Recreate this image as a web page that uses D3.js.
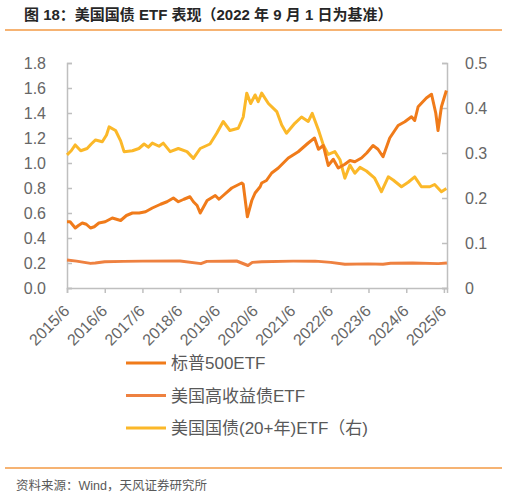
<!DOCTYPE html>
<html>
<head>
<meta charset="utf-8">
<script src="https://cdn.jsdelivr.net/npm/d3@7"></script>
<style>
  body { margin: 0; background: #fff; }
  text { font-family: "Liberation Sans", "Noto Sans CJK SC", sans-serif; }
</style>
</head>
<body>
<script>
// 标普500ETF (left axis)
var spxDates = ["2015-06-01","2015-07-01","2015-08-20","2015-09-20","2015-10-27","2015-12-05","2016-01-15","2016-02-20","2016-04-05","2016-06-05","2016-08-13","2016-11-02","2016-12-28","2017-02-24","2017-05-01","2017-07-01","2017-09-05","2017-11-24","2018-01-25","2018-03-28","2018-05-15","2018-07-08","2018-09-05","2018-10-08","2018-11-13","2018-12-13","2019-02-18","2019-05-08","2019-06-13","2019-07-24","2019-10-15","2020-01-19","2020-02-03","2020-03-14","2020-04-26","2020-05-28","2020-07-16","2020-07-31","2020-09-15","2020-11-05","2021-01-08","2021-04-15","2021-07-20","2021-10-25","2021-12-25","2022-02-01","2022-03-20","2022-05-07","2022-06-25","2022-08-12","2022-10-15","2022-12-03","2023-01-20","2023-03-25","2023-05-15","2023-07-15","2023-09-01","2023-10-20","2023-12-24","2024-03-14","2024-05-18","2024-07-22","2024-08-22","2024-09-24","2024-12-13","2025-02-01","2025-03-14","2025-04-05","2025-05-08","2025-06-25"];
var spxValues = [0.53,0.53,0.48,0.50,0.52,0.51,0.48,0.49,0.52,0.53,0.56,0.54,0.58,0.60,0.60,0.61,0.64,0.67,0.69,0.72,0.69,0.71,0.73,0.69,0.66,0.60,0.70,0.74,0.71,0.74,0.80,0.84,0.83,0.57,0.70,0.76,0.81,0.84,0.86,0.92,0.96,1.04,1.09,1.16,1.20,1.11,1.14,0.98,1.03,0.96,0.99,1.02,1.01,1.04,1.08,1.14,1.11,1.05,1.20,1.30,1.33,1.37,1.34,1.45,1.52,1.55,1.40,1.26,1.45,1.58];

// 美国高收益债ETF (left axis)
var hyDates = ["2015-06-01","2015-09-01","2016-01-15","2016-03-01","2016-06-01","2016-12-01","2017-06-01","2018-06-01","2018-12-20","2019-02-15","2019-12-01","2020-03-20","2020-05-01","2020-08-01","2021-06-01","2021-12-31","2022-06-01","2022-10-15","2023-06-01","2023-10-20","2024-01-01","2024-08-01","2025-04-08","2025-06-30"];
var hyValues = [0.224,0.215,0.197,0.200,0.210,0.213,0.215,0.216,0.195,0.213,0.216,0.180,0.205,0.210,0.215,0.215,0.205,0.190,0.193,0.190,0.198,0.200,0.195,0.200];

// 美国国债(20+年)ETF (right axis)
var tltDates = ["2015-06-01","2015-07-12","2015-08-20","2015-10-12","2015-12-13","2016-01-22","2016-03-04","2016-05-08","2016-06-18","2016-07-13","2016-09-14","2016-11-02","2016-12-05","2017-02-24","2017-04-28","2017-06-17","2017-07-28","2017-09-05","2017-11-09","2017-12-20","2018-02-25","2018-05-15","2018-08-07","2018-10-08","2018-12-13","2019-03-18","2019-05-22","2019-07-24","2019-09-27","2019-12-17","2020-02-03","2020-03-08","2020-04-15","2020-05-28","2020-06-27","2020-07-31","2020-10-04","2020-12-24","2021-02-10","2021-03-28","2021-06-17","2021-08-21","2021-10-25","2021-12-03","2022-02-01","2022-03-20","2022-05-07","2022-07-10","2022-08-29","2022-10-15","2022-12-03","2023-01-20","2023-03-10","2023-05-12","2023-07-31","2023-10-05","2023-12-10","2024-01-26","2024-04-16","2024-06-20","2024-08-22","2024-10-26","2025-01-15","2025-03-03","2025-05-08","2025-06-25"];
var tltValues = [0.296,0.305,0.318,0.305,0.310,0.320,0.329,0.325,0.340,0.358,0.350,0.327,0.303,0.305,0.310,0.320,0.313,0.322,0.315,0.322,0.303,0.310,0.303,0.288,0.310,0.320,0.344,0.370,0.350,0.355,0.380,0.433,0.410,0.429,0.414,0.433,0.410,0.392,0.362,0.344,0.366,0.380,0.370,0.388,0.351,0.318,0.297,0.303,0.285,0.244,0.273,0.255,0.268,0.260,0.244,0.214,0.247,0.240,0.225,0.235,0.247,0.225,0.225,0.230,0.214,0.221];

var leftTicks = [0, 0.2, 0.4, 0.6, 0.8, 1.0, 1.2, 1.4, 1.6, 1.8];
var rightTicks = [0, 0.1, 0.2, 0.3, 0.4, 0.5];
var xTickLabels = ["2015/6","2016/6","2017/6","2018/6","2019/6","2020/6","2021/6","2022/6","2023/6","2024/6","2025/6"];
var legendNames = ["标普500ETF", "美国高收益债ETF", "美国国债(20+年)ETF（右)"];
var title = "图 18：美国国债 ETF 表现（2022 年 9 月 1 日为基准）";
var source = "资料来源：Wind，天风证券研究所";

var parse = d3.timeParse("%Y-%m-%d");
function zip(ds, vs) { return ds.map(function(d, i) { return {date: parse(d), value: vs[i]}; }); }

var svg = d3.select("body").append("svg")
  .attr("width", 508)
  .attr("height", 497)

var x = d3.scaleTime()
  .domain([parse("2015-06-01"), parse("2025-07-01")])
  .range([67, 447])
var yL = d3.scaleLinear().domain([0, 1.8]).range([288, 63])
var yR = d3.scaleLinear().domain([0, 0.5]).range([288, 63])

// title + rules
svg.append("text").text(title)
  .attr("x", 24).attr("y", 20)
  .attr("font-size", 15).attr("font-weight", "bold").attr("fill", "#262626")
svg.append("line").attr("x1", 5).attr("x2", 502).attr("y1", 30).attr("y2", 30)
  .attr("stroke", "#F39A45").attr("stroke-width", 1.5)
svg.append("line").attr("x1", 5).attr("x2", 502).attr("y1", 468).attr("y2", 468)
  .attr("stroke", "#F39A45").attr("stroke-width", 1.5)
svg.append("text").text(source)
  .attr("x", 16).attr("y", 490)
  .attr("font-size", 12.5).attr("fill", "#595959")

// axes
var axisColor = "#BFBFBF", labelColor = "#666";
var xTickDates = xTickLabels.map(function(s) { return d3.timeParse("%Y/%m")(s); });
var xAxis = d3.axisBottom(x).tickValues(xTickDates).tickSize(5).tickFormat(d3.timeFormat("%Y/%-m"))
var gx = svg.append("g").attr("transform", "translate(0,288)").call(xAxis)
gx.select(".domain").attr("stroke", axisColor).attr("stroke-width", 1.5)
gx.selectAll(".tick line").attr("stroke", axisColor).attr("stroke-width", 1.5)
gx.selectAll(".tick text")
  .attr("font-size", 16).attr("fill", labelColor)
  .attr("text-anchor", "end")
  .attr("transform", "translate(-1,20) rotate(-45)")
  .attr("dy", "0.35em").attr("y", 0).attr("x", 0)

var gl = svg.append("g").attr("transform", "translate(67,0)")
  .call(d3.axisRight(yL).tickValues(leftTicks).tickSize(5).tickFormat(d3.format(".1f")))
gl.select(".domain").attr("stroke", axisColor).attr("stroke-width", 1.5)
gl.selectAll(".tick line").attr("stroke", axisColor).attr("stroke-width", 1.5)
gl.selectAll(".tick text").attr("font-size", 16).attr("fill", labelColor)
  .attr("text-anchor", "end").attr("x", -21)

var gr = svg.append("g").attr("transform", "translate(447,0)")
  .call(d3.axisLeft(yR).tickValues(rightTicks).tickSize(5).tickFormat(function(d) { return d === 0 ? "0" : d3.format(".1f")(d); }))
gr.select(".domain").attr("stroke", axisColor).attr("stroke-width", 1.5)
gr.selectAll(".tick line").attr("stroke", axisColor).attr("stroke-width", 1.5)
gr.selectAll(".tick text").attr("font-size", 16).attr("fill", labelColor)
  .attr("text-anchor", "start").attr("x", 18)

// lines
var colors = ["#F07B1A", "#EE8140", "#FBB829"];
var series = [
  {data: zip(spxDates, spxValues), y: yL, color: colors[0]},
  {data: zip(hyDates, hyValues), y: yL, color: colors[1]},
  {data: zip(tltDates, tltValues), y: yR, color: colors[2]}
];
series.slice().reverse().forEach(function(s) {
  var line = d3.line().x(function(d) { return x(d.date); }).y(function(d) { return s.y(d.value); });
  svg.append("path").datum(s.data)
    .attr("d", line)
    .attr("fill", "none")
    .attr("stroke", s.color)
    .attr("stroke-width", 3)
    .attr("stroke-linejoin", "round")
});

// legend
var lg = svg.append("g")
legendNames.forEach(function(name, i) {
  var y = 363 + i * 32.5;
  lg.append("line").attr("x1", 126).attr("x2", 166).attr("y1", y).attr("y2", y)
    .attr("stroke", colors[i]).attr("stroke-width", 3)
  lg.append("text").text(name).attr("x", 171).attr("y", y).attr("dy", "0.36em")
    .attr("font-size", 17).attr("fill", "#595959")
});
</script>
</body>
</html>
